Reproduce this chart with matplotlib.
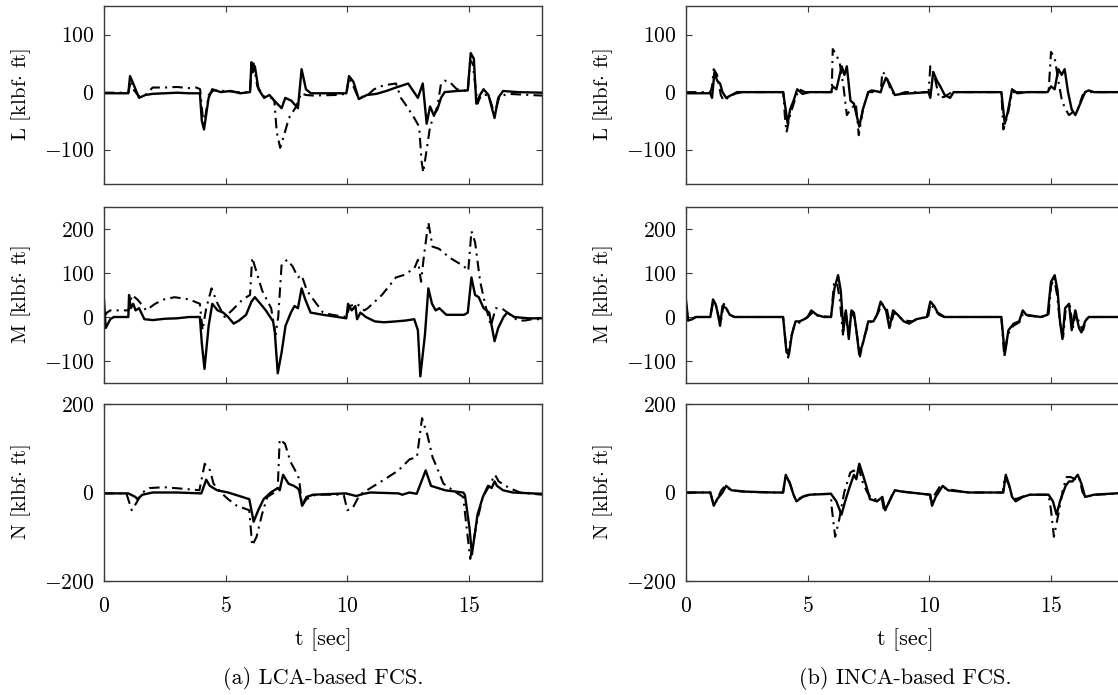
import matplotlib
matplotlib.use("Agg")
import matplotlib.pyplot as plt

plt.rcParams['font.family'] = 'cmr10'
plt.rcParams['mathtext.fontset'] = 'cm'
plt.rcParams['axes.formatter.use_mathtext'] = True
plt.rcParams['axes.unicode_minus'] = True

# ---------------- data (t [sec], value [klbf ft]) ----------------
L_lca_solid = [(0,-2),(1.0,-2),(1.07,28),(1.2,15),(1.44,-10),(1.7,-5),(2.0,-3),(2.5,-2),(3.0,-1),(3.5,-2),(3.94,-2),(4.02,-50),(4.11,-65),(4.3,-10),(4.45,5),(4.8,0),(5.2,2),(5.6,-2),(6.0,0),(6.06,52),(6.12,35),(6.2,45),(6.35,5),(6.58,-10),(6.8,-5),(7.0,-15),(7.3,-28),(7.45,-10),(7.7,-15),(7.97,-28),(8.12,40),(8.3,5),(8.5,-2),(9.0,-2),(9.96,-2),(10.07,28),(10.25,18),(10.47,-12),(10.8,-5),(11.2,-3),(11.6,2),(12.0,8),(12.5,15),(12.9,-10),(13.1,15),(13.26,-55),(13.4,-25),(13.55,-40),(13.7,-30),(13.85,-10),(14.0,0),(14.5,2),(14.95,3),(15.07,68),(15.2,58),(15.3,-20),(15.45,-5),(15.6,5),(15.8,-5),(16.05,-45),(16.2,-10),(16.4,2),(17.0,0),(18.0,-1)]
L_lca_dash = [(0,-1),(1.0,-1),(1.1,20),(1.2,5),(1.45,-8),(1.7,-5),(2.0,8),(2.5,8),(3.0,9),(3.5,7),(3.8,8),(3.95,5),(4.05,-40),(4.12,-55),(4.3,-5),(4.5,3),(5.0,2),(5.5,0),(6.0,0),(6.07,45),(6.15,50),(6.3,10),(6.58,-8),(6.9,-10),(7.0,-15),(7.1,-70),(7.24,-97),(7.4,-75),(7.6,-45),(7.9,-25),(8.1,-2),(8.3,-5),(8.6,-6),(9.5,-5),(9.96,-3),(10.07,25),(10.25,10),(10.45,-10),(10.84,-5),(11.1,5),(11.5,12),(12.0,15),(12.2,-10),(12.45,-25),(12.75,-45),(12.95,-60),(13.05,-120),(13.12,-140),(13.26,-100),(13.4,-60),(13.7,-25),(13.85,15),(14.0,20),(14.2,18),(14.5,5),(14.95,2),(15.05,55),(15.15,50),(15.35,-20),(15.5,-5),(15.8,-5),(16.05,-38),(16.25,-8),(16.6,-3),(17.5,-5),(18.0,-6)]

M_lca_solid = [(0,38),(0.07,-25),(0.26,-5),(0.4,0),(1.0,0),(1.03,50),(1.1,20),(1.2,30),(1.3,15),(1.44,20),(1.66,-5),(2.0,-7),(2.5,-4),(3.0,-3),(3.5,0),(3.94,0),(4.02,-60),(4.13,-118),(4.3,-20),(4.45,30),(4.67,15),(4.9,10),(5.1,0),(5.33,-15),(5.55,-8),(5.84,5),(6.06,35),(6.2,45),(6.43,30),(6.65,15),(6.95,-10),(7.02,-35),(7.14,-128),(7.3,-80),(7.46,-20),(7.68,10),(7.83,25),(7.97,20),(8.12,65),(8.27,40),(8.49,10),(9.0,5),(9.96,-3),(10.03,30),(10.18,15),(10.33,25),(10.4,-5),(10.54,10),(10.76,0),(11.13,-10),(11.5,-12),(12.0,-10),(12.4,-8),(12.75,-5),(12.9,-30),(13.0,-135),(13.19,-40),(13.33,65),(13.48,30),(13.63,15),(13.78,20),(14.07,5),(14.8,5),(14.95,10),(15.1,90),(15.25,50),(15.4,45),(15.6,20),(15.83,10),(16.05,-55),(16.2,-25),(16.42,0),(16.57,10),(16.86,0),(17.44,-3),(18.0,-3)]
M_lca_dash = [(0,0),(0.12,10),(0.26,15),(1.0,15),(1.15,50),(1.37,40),(1.6,25),(1.73,15),(2.1,30),(2.47,40),(2.9,45),(3.5,40),(3.94,30),(4.05,-30),(4.2,20),(4.42,65),(4.67,30),(4.96,0),(5.26,15),(5.7,40),(6.0,50),(6.09,135),(6.28,100),(6.5,60),(6.87,20),(7.05,-40),(7.16,0),(7.3,120),(7.53,130),(7.75,115),(7.97,90),(8.12,95),(8.34,60),(8.6,40),(9.0,10),(9.37,5),(9.96,0),(10.1,25),(10.4,30),(10.7,15),(10.84,20),(11.42,50),(12.0,90),(12.3,95),(12.75,110),(12.9,130),(13.03,80),(13.15,140),(13.33,215),(13.5,160),(13.77,155),(14.2,135),(14.8,115),(14.97,105),(15.1,195),(15.25,170),(15.46,80),(15.68,25),(15.9,-20),(16.1,20),(16.34,20),(16.7,5),(17.0,-8),(17.3,-8),(17.6,-5),(18.0,-5)]

N_lca_solid = [(0,-2),(1.0,-2),(1.29,-10),(1.37,-15),(1.58,-5),(2.0,0),(3.0,0),(4.0,-2),(4.2,29),(4.35,15),(4.65,5),(5.1,0),(5.68,-10),(5.97,-15),(6.15,-66),(6.34,-40),(6.56,-15),(6.85,0),(7.14,10),(7.22,5),(7.36,40),(7.58,20),(7.8,15),(7.95,10),(8.02,5),(8.14,-30),(8.32,-10),(8.6,-5),(9.93,-2),(10.15,-5),(10.37,-8),(10.66,-3),(10.95,0),(12.1,-2),(12.26,-5),(12.55,0),(12.85,-3),(13.22,50),(13.44,15),(13.73,10),(14.02,5),(14.76,0),(14.83,-5),(15.02,-80),(15.12,-140),(15.35,-50),(15.57,-10),(15.78,15),(15.93,10),(16.05,25),(16.15,15),(16.4,5),(16.8,0),(18.0,-3)]
N_lca_dash = [(0,-2),(0.92,-2),(1.14,-40),(1.26,-30),(1.58,0),(1.87,10),(2.46,12),(3.34,8),(3.92,5),(4.14,65),(4.36,50),(4.5,20),(4.8,0),(5.1,-15),(5.46,-30),(5.97,-40),(6.09,-120),(6.27,-100),(6.49,-50),(6.71,-10),(7.0,0),(7.14,10),(7.22,120),(7.44,110),(7.66,70),(7.95,40),(8.02,30),(8.14,-30),(8.32,-15),(8.7,-5),(9.85,-5),(10.0,-40),(10.22,-35),(10.51,-5),(11.54,30),(12.1,50),(12.56,75),(12.86,80),(13.07,168),(13.29,130),(13.5,80),(13.73,50),(13.95,20),(14.47,0),(14.76,-10),(15.05,-150),(15.35,-60),(15.57,-10),(15.78,10),(16.07,40),(16.22,25),(16.66,10),(17.1,0),(18.0,-5)]

L_inca_solid = [(0,-2),(1.0,-2),(1.07,-10),(1.17,35),(1.28,20),(1.4,15),(1.5,0),(1.65,-10),(1.87,-5),(2.1,0),(3.99,0),(4.06,-20),(4.18,-55),(4.28,-30),(4.42,-15),(4.57,5),(4.79,-3),(5.08,0),(5.96,0),(6.03,10),(6.18,5),(6.4,45),(6.51,30),(6.61,45),(6.76,-15),(6.9,-20),(7.12,-60),(7.27,-30),(7.49,0),(7.63,3),(8.0,0),(8.07,10),(8.22,25),(8.36,15),(8.58,-5),(8.88,-3),(9.97,0),(10.04,-10),(10.16,35),(10.31,20),(10.45,10),(10.63,-5),(10.85,-10),(11.0,0),(12.96,0),(13.1,-55),(13.22,-35),(13.4,5),(13.62,-2),(14.0,0),(14.86,0),(15.0,10),(15.15,5),(15.3,40),(15.44,30),(15.56,40),(15.7,0),(15.85,-30),(16.0,-40),(16.2,-20),(16.4,0),(16.55,3),(16.77,0),(18.0,0)]
L_inca_dash = [(0,0),(1.0,0),(1.07,10),(1.14,40),(1.28,30),(1.43,-5),(1.55,-15),(1.72,-10),(2.0,-3),(2.3,0),(4.0,0),(4.06,-40),(4.13,-70),(4.28,-40),(4.5,-10),(4.65,5),(4.9,0),(5.99,0),(6.03,75),(6.18,65),(6.32,50),(6.47,10),(6.61,-40),(6.76,-30),(6.98,-20),(7.1,-75),(7.27,-30),(7.49,0),(8.0,0),(8.07,35),(8.22,30),(8.44,0),(8.66,-5),(9.0,0),(9.97,0),(10.04,45),(10.2,30),(10.4,-10),(10.63,-8),(10.92,0),(12.96,0),(13.04,-65),(13.22,-40),(13.4,0),(14.9,0),(15.0,70),(15.15,60),(15.3,20),(15.45,-15),(15.6,-30),(15.74,-40),(15.89,-35),(16.1,-30),(16.3,-5),(16.6,0),(18.0,0)]

M_inca_solid = [(0,38),(0.09,-8),(0.26,-5),(0.41,0),(1.0,0),(1.11,40),(1.21,30),(1.28,15),(1.4,-20),(1.5,25),(1.65,20),(1.8,5),(2.0,0),(3.99,0),(4.13,-80),(4.23,-85),(4.35,-40),(4.5,-10),(4.67,-10),(4.86,-5),(5.0,0),(5.15,15),(5.37,5),(5.66,0),(5.96,0),(6.1,65),(6.25,95),(6.36,60),(6.47,-30),(6.57,15),(6.69,-50),(6.8,15),(6.9,10),(7.0,-30),(7.12,-85),(7.27,-60),(7.49,-10),(7.7,-10),(7.85,5),(8.0,35),(8.22,15),(8.36,-25),(8.51,15),(8.7,5),(8.95,-10),(9.17,-15),(9.46,-5),(9.9,0),(10.04,35),(10.2,25),(10.34,10),(10.48,5),(10.63,0),(12.96,0),(13.1,-85),(13.25,-30),(13.47,-15),(13.69,-10),(13.84,15),(13.98,5),(14.57,0),(14.86,5),(15.0,80),(15.15,95),(15.27,60),(15.37,-10),(15.47,-50),(15.58,20),(15.74,30),(15.85,-30),(16.0,15),(16.15,-25),(16.25,-35),(16.4,-10),(16.55,0),(18.0,0)]
M_inca_dash = [(0,30),(0.09,-10),(0.26,-3),(0.41,0),(1.0,0),(1.1,30),(1.2,35),(1.3,10),(1.42,-15),(1.55,30),(1.7,15),(1.85,3),(2.0,0),(3.99,0),(4.1,-60),(4.2,-92),(4.3,-50),(4.45,-20),(4.6,-15),(4.8,-8),(5.0,0),(5.2,10),(5.4,3),(5.96,0),(6.08,75),(6.2,80),(6.32,40),(6.45,-40),(6.56,10),(6.68,-40),(6.78,10),(6.92,0),(7.05,-50),(7.15,-90),(7.3,-50),(7.5,-15),(7.75,-5),(7.9,10),(8.05,30),(8.25,20),(8.4,-20),(8.55,10),(8.75,0),(9.0,-8),(9.3,-10),(9.6,-3),(9.95,0),(10.05,30),(10.25,15),(10.4,5),(10.6,0),(12.96,0),(13.08,-90),(13.22,-40),(13.45,-20),(13.7,-12),(13.87,10),(14.05,3),(14.6,0),(14.9,5),(15.0,70),(15.12,90),(15.25,50),(15.38,-20),(15.5,-45),(15.6,15),(15.78,25),(15.9,-25),(16.02,10),(16.2,-20),(16.32,-30),(16.45,-5),(16.6,0),(18.0,0)]

N_inca_solid = [(0,0),(1.0,0),(1.14,-30),(1.28,-15),(1.5,0),(1.65,15),(1.87,5),(2.45,2),(3.6,0),(3.99,0),(4.1,40),(4.27,20),(4.42,-5),(4.54,-20),(4.79,-10),(5.08,-5),(5.96,-3),(6.18,-20),(6.39,-50),(6.54,-20),(6.71,10),(6.9,40),(7.0,30),(7.12,65),(7.27,40),(7.41,15),(7.56,-15),(7.85,-20),(8.07,-10),(8.18,-40),(8.36,-20),(8.58,5),(8.88,2),(10.04,-5),(10.11,-30),(10.26,-10),(10.55,15),(10.77,5),(11.65,0),(13.04,0),(13.14,40),(13.29,15),(13.4,-10),(13.55,-20),(13.84,-10),(14.13,-5),(14.9,-5),(15.08,-20),(15.23,-50),(15.37,-20),(15.6,15),(15.74,25),(15.88,25),(16.1,40),(16.25,20),(16.4,-10),(16.77,-5),(17.34,-3),(18.0,-1)]
N_inca_dash = [(0,0),(1.0,0),(1.12,-25),(1.25,-20),(1.45,5),(1.6,15),(1.85,5),(2.5,1),(3.99,0),(4.08,35),(4.25,25),(4.45,-10),(4.6,-15),(4.85,-8),(5.1,-4),(5.96,-3),(5.98,-30),(6.13,-100),(6.3,-60),(6.5,0),(6.75,45),(6.9,50),(7.0,35),(7.1,55),(7.25,25),(7.45,0),(7.65,-15),(7.9,-15),(8.05,-15),(8.15,-45),(8.35,-20),(8.55,5),(8.9,2),(10.02,-5),(10.08,-25),(10.22,-5),(10.45,15),(10.7,8),(11.6,0),(13.02,0),(13.1,35),(13.25,20),(13.4,-10),(13.55,-15),(13.8,-10),(14.1,-5),(14.9,-5),(15.0,-40),(15.12,-100),(15.3,-50),(15.5,10),(15.65,35),(15.8,35),(16.0,30),(16.15,35),(16.3,0),(16.45,-10),(16.8,-5),(18.0,-2)]

row_names = ['L', 'M', 'N']
row_ylims = [(-160, 150), (-150, 250), (-200, 200)]
row_yticks = [[-100, 0, 100], [-100, 0, 100, 200], [-200, 0, 200]]
x_ticks = [0, 5, 10, 15]
x_lim = (0, 18)
captions = ['(a) LCA-based FCS.', '(b) INCA-based FCS.']
xlabel = 't [sec]'

series = [
    [(L_lca_solid, L_lca_dash), (L_inca_solid, L_inca_dash)],
    [(M_lca_solid, M_lca_dash), (M_inca_solid, M_inca_dash)],
    [(N_lca_solid, N_lca_dash), (N_inca_solid, N_inca_dash)],
]

# ---------------- layout ----------------
W, H = 1118, 695
fig = plt.figure(figsize=(W / 100, H / 100), dpi=100)
col_left = [104, 686]
ax_w = 438
rows_px = [(6, 184), (207, 383), (404, 581)]
spine_col = '#3a3a3a'
FS_TICK = 15.5
FS_LABEL = 15
FS_CAP = 16

for r in range(3):
    top, bot = rows_px[r]
    for c in range(2):
        ax = fig.add_axes([col_left[c] / W, 1 - bot / H, ax_w / W, (bot - top) / H])
        solid, dash = series[r][c]
        ts, vs = zip(*solid)
        td, vd = zip(*dash)
        ax.plot(td, vd, color='black', lw=1.5, linestyle=(0, (5, 2.5, 1, 2.5)))
        ax.plot(ts, vs, color='black', lw=1.7)
        ax.set_xlim(*x_lim)
        ax.set_ylim(*row_ylims[r])
        ax.set_yticks(row_yticks[r])
        ax.set_xticks(x_ticks)
        ax.tick_params(direction='in', top=True, right=True, length=4, width=0.8,
                       color=spine_col, labelsize=FS_TICK)
        ax.tick_params(axis='y', pad=7)
        ax.tick_params(axis='x', pad=11)
        for s in ax.spines.values():
            s.set_color(spine_col)
            s.set_linewidth(1.0)
        if r < 2:
            ax.set_xticklabels([])
        ax.set_ylabel(row_names[r] + r' [klbf$\cdot$ ft]', fontsize=FS_LABEL)
        lx = 33 if c == 0 else 615
        ax.yaxis.set_label_coords((lx - col_left[c]) / ax_w, 0.5)

for c in range(2):
    cx = (col_left[c] + ax_w / 2) / W
    fig.text(cx, 1 - 640 / H, xlabel, ha='center', va='center', fontsize=FS_CAP)
    fig.text(cx, 1 - 678 / H, captions[c], ha='center', va='center', fontsize=FS_CAP)

fig.savefig('out.png', dpi=100)
